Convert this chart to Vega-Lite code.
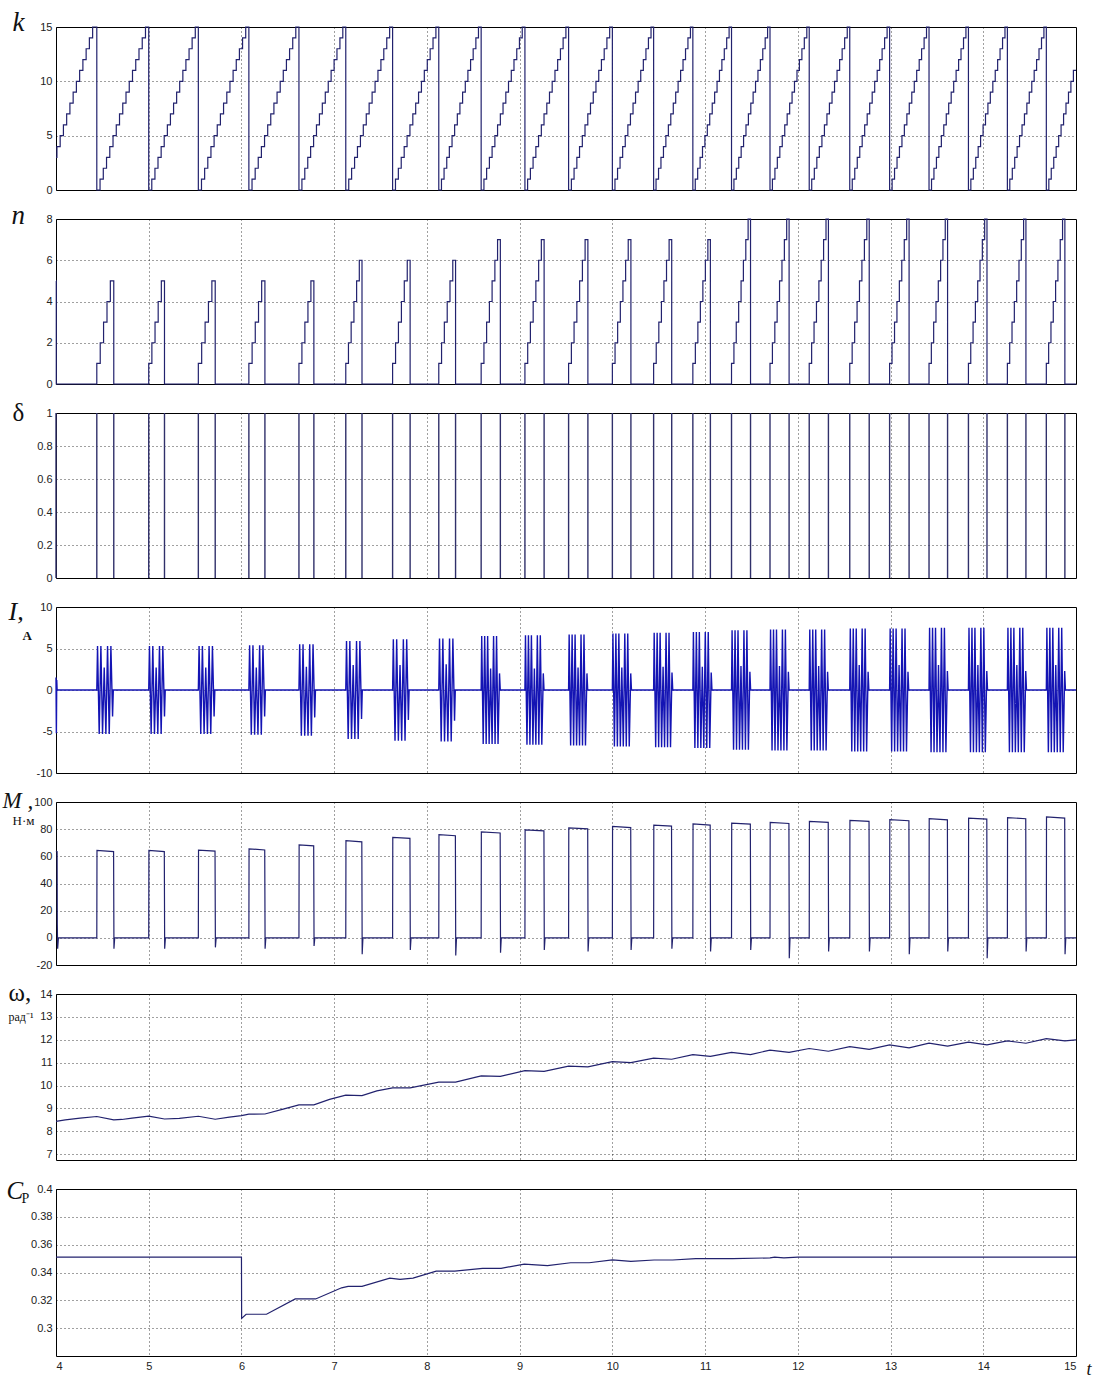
{
"$schema": "https://vega.github.io/schema/vega-lite/v6.json",
"background": "white",
"padding": {"left": 1, "top": 7, "right": 12, "bottom": 8},
"bounds": "flush",
"spacing": 29,
"config": {
 "view": {"stroke": "#000", "strokeWidth": 1},
 "axis": {"labelFont": "Liberation Sans", "labelFontSize": 11, "labelColor": "#222", "gridColor": "#000", "gridDash": [1, 3], "gridOpacity": 0.75, "domain": false, "ticks": false, "labelPadding": 4, "titleFont": "Liberation Serif", "titleColor": "#111", "titleFontWeight": "normal", "titleAngle": 0, "titleBaseline": "alphabetic", "titleAlign": "left"},
 "line": {"color": "#22226e", "strokeWidth": 1.2}
},
"datasets": {
 "k": [
{"t":4,"v":3},{"t":4.01,"v":4},{"t":4.045,"v":5},{"t":4.08,"v":6},{"t":4.115,"v":7},{"t":4.15,"v":8},{"t":4.185,"v":9},{"t":4.22,"v":10},{"t":4.255,"v":11},{"t":4.29,"v":12},{"t":4.325,"v":13},{"t":4.36,"v":14},{"t":4.395,"v":15},
{"t":4.44,"v":0},{"t":4.475,"v":1},{"t":4.51,"v":2},{"t":4.545,"v":3},{"t":4.58,"v":4},{"t":4.615,"v":5},{"t":4.65,"v":6},{"t":4.685,"v":7},{"t":4.72,"v":8},{"t":4.755,"v":9},{"t":4.79,"v":10},{"t":4.825,"v":11},{"t":4.86,"v":12},{"t":4.895,"v":13},{"t":4.93,"v":14},{"t":4.965,"v":15},
{"t":5.0,"v":0},{"t":5.033,"v":1},{"t":5.067,"v":2},{"t":5.1,"v":3},{"t":5.134,"v":4},{"t":5.167,"v":5},{"t":5.201,"v":6},{"t":5.234,"v":7},{"t":5.268,"v":8},{"t":5.301,"v":9},{"t":5.334,"v":10},{"t":5.368,"v":11},{"t":5.401,"v":12},{"t":5.435,"v":13},{"t":5.468,"v":14},{"t":5.502,"v":15},
{"t":5.535,"v":0},{"t":5.569,"v":1},{"t":5.603,"v":2},{"t":5.637,"v":3},{"t":5.671,"v":4},{"t":5.705,"v":5},{"t":5.739,"v":6},{"t":5.773,"v":7},{"t":5.807,"v":8},{"t":5.842,"v":9},{"t":5.876,"v":10},{"t":5.91,"v":11},{"t":5.944,"v":12},{"t":5.978,"v":13},{"t":6.012,"v":14},{"t":6.046,"v":15},
{"t":6.08,"v":0},{"t":6.114,"v":1},{"t":6.148,"v":2},{"t":6.181,"v":3},{"t":6.215,"v":4},{"t":6.249,"v":5},{"t":6.283,"v":6},{"t":6.316,"v":7},{"t":6.35,"v":8},{"t":6.384,"v":9},{"t":6.418,"v":10},{"t":6.451,"v":11},{"t":6.485,"v":12},{"t":6.519,"v":13},{"t":6.553,"v":14},{"t":6.586,"v":15},
{"t":6.62,"v":0},{"t":6.652,"v":1},{"t":6.683,"v":2},{"t":6.715,"v":3},{"t":6.746,"v":4},{"t":6.778,"v":5},{"t":6.809,"v":6},{"t":6.841,"v":7},{"t":6.872,"v":8},{"t":6.904,"v":9},{"t":6.936,"v":10},{"t":6.967,"v":11},{"t":6.999,"v":12},{"t":7.03,"v":13},{"t":7.062,"v":14},{"t":7.093,"v":15},
{"t":7.125,"v":0},{"t":7.157,"v":1},{"t":7.188,"v":2},{"t":7.22,"v":3},{"t":7.251,"v":4},{"t":7.283,"v":5},{"t":7.314,"v":6},{"t":7.346,"v":7},{"t":7.377,"v":8},{"t":7.409,"v":9},{"t":7.441,"v":10},{"t":7.472,"v":11},{"t":7.504,"v":12},{"t":7.535,"v":13},{"t":7.567,"v":14},{"t":7.598,"v":15},
{"t":7.63,"v":0},{"t":7.661,"v":1},{"t":7.692,"v":2},{"t":7.723,"v":3},{"t":7.755,"v":4},{"t":7.786,"v":5},{"t":7.817,"v":6},{"t":7.848,"v":7},{"t":7.879,"v":8},{"t":7.91,"v":9},{"t":7.941,"v":10},{"t":7.972,"v":11},{"t":8.004,"v":12},{"t":8.035,"v":13},{"t":8.066,"v":14},{"t":8.097,"v":15},
{"t":8.128,"v":0},{"t":8.157,"v":1},{"t":8.185,"v":2},{"t":8.214,"v":3},{"t":8.242,"v":4},{"t":8.271,"v":5},{"t":8.299,"v":6},{"t":8.328,"v":7},{"t":8.356,"v":8},{"t":8.385,"v":9},{"t":8.414,"v":10},{"t":8.442,"v":11},{"t":8.471,"v":12},{"t":8.499,"v":13},{"t":8.528,"v":14},{"t":8.556,"v":15},
{"t":8.585,"v":0},{"t":8.615,"v":1},{"t":8.644,"v":2},{"t":8.674,"v":3},{"t":8.703,"v":4},{"t":8.733,"v":5},{"t":8.762,"v":6},{"t":8.792,"v":7},{"t":8.821,"v":8},{"t":8.851,"v":9},{"t":8.88,"v":10},{"t":8.91,"v":11},{"t":8.939,"v":12},{"t":8.969,"v":13},{"t":8.998,"v":14},{"t":9.028,"v":15},
{"t":9.057,"v":0},{"t":9.086,"v":1},{"t":9.116,"v":2},{"t":9.145,"v":3},{"t":9.175,"v":4},{"t":9.204,"v":5},{"t":9.234,"v":6},{"t":9.263,"v":7},{"t":9.293,"v":8},{"t":9.322,"v":9},{"t":9.351,"v":10},{"t":9.381,"v":11},{"t":9.41,"v":12},{"t":9.44,"v":13},{"t":9.469,"v":14},{"t":9.499,"v":15},
{"t":9.528,"v":0},{"t":9.558,"v":1},{"t":9.587,"v":2},{"t":9.617,"v":3},{"t":9.646,"v":4},{"t":9.676,"v":5},{"t":9.705,"v":6},{"t":9.735,"v":7},{"t":9.764,"v":8},{"t":9.794,"v":9},{"t":9.823,"v":10},{"t":9.853,"v":11},{"t":9.882,"v":12},{"t":9.912,"v":13},{"t":9.941,"v":14},{"t":9.971,"v":15},
{"t":10.0,"v":0},{"t":10.028,"v":1},{"t":10.056,"v":2},{"t":10.083,"v":3},{"t":10.111,"v":4},{"t":10.139,"v":5},{"t":10.167,"v":6},{"t":10.195,"v":7},{"t":10.223,"v":8},{"t":10.25,"v":9},{"t":10.278,"v":10},{"t":10.306,"v":11},{"t":10.334,"v":12},{"t":10.362,"v":13},{"t":10.389,"v":14},{"t":10.417,"v":15},
{"t":10.445,"v":0},{"t":10.471,"v":1},{"t":10.498,"v":2},{"t":10.524,"v":3},{"t":10.551,"v":4},{"t":10.577,"v":5},{"t":10.604,"v":6},{"t":10.63,"v":7},{"t":10.657,"v":8},{"t":10.683,"v":9},{"t":10.709,"v":10},{"t":10.736,"v":11},{"t":10.762,"v":12},{"t":10.789,"v":13},{"t":10.815,"v":14},{"t":10.842,"v":15},
{"t":10.868,"v":0},{"t":10.894,"v":1},{"t":10.92,"v":2},{"t":10.946,"v":3},{"t":10.972,"v":4},{"t":10.998,"v":5},{"t":11.024,"v":6},{"t":11.05,"v":7},{"t":11.077,"v":8},{"t":11.103,"v":9},{"t":11.129,"v":10},{"t":11.155,"v":11},{"t":11.181,"v":12},{"t":11.207,"v":13},{"t":11.233,"v":14},{"t":11.259,"v":15},
{"t":11.285,"v":0},{"t":11.311,"v":1},{"t":11.337,"v":2},{"t":11.363,"v":3},{"t":11.389,"v":4},{"t":11.415,"v":5},{"t":11.441,"v":6},{"t":11.467,"v":7},{"t":11.493,"v":8},{"t":11.518,"v":9},{"t":11.544,"v":10},{"t":11.57,"v":11},{"t":11.596,"v":12},{"t":11.622,"v":13},{"t":11.648,"v":14},{"t":11.674,"v":15},
{"t":11.7,"v":0},{"t":11.726,"v":1},{"t":11.753,"v":2},{"t":11.779,"v":3},{"t":11.806,"v":4},{"t":11.832,"v":5},{"t":11.859,"v":6},{"t":11.885,"v":7},{"t":11.912,"v":8},{"t":11.938,"v":9},{"t":11.964,"v":10},{"t":11.991,"v":11},{"t":12.017,"v":12},{"t":12.044,"v":13},{"t":12.07,"v":14},{"t":12.097,"v":15},
{"t":12.123,"v":0},{"t":12.15,"v":1},{"t":12.178,"v":2},{"t":12.205,"v":3},{"t":12.232,"v":4},{"t":12.26,"v":5},{"t":12.287,"v":6},{"t":12.314,"v":7},{"t":12.341,"v":8},{"t":12.369,"v":9},{"t":12.396,"v":10},{"t":12.423,"v":11},{"t":12.451,"v":12},{"t":12.478,"v":13},{"t":12.505,"v":14},{"t":12.533,"v":15},
{"t":12.56,"v":0},{"t":12.587,"v":1},{"t":12.614,"v":2},{"t":12.641,"v":3},{"t":12.668,"v":4},{"t":12.694,"v":5},{"t":12.721,"v":6},{"t":12.748,"v":7},{"t":12.775,"v":8},{"t":12.802,"v":9},{"t":12.829,"v":10},{"t":12.856,"v":11},{"t":12.883,"v":12},{"t":12.909,"v":13},{"t":12.936,"v":14},{"t":12.963,"v":15},
{"t":12.99,"v":0},{"t":13.017,"v":1},{"t":13.043,"v":2},{"t":13.07,"v":3},{"t":13.096,"v":4},{"t":13.123,"v":5},{"t":13.149,"v":6},{"t":13.176,"v":7},{"t":13.202,"v":8},{"t":13.229,"v":9},{"t":13.256,"v":10},{"t":13.282,"v":11},{"t":13.309,"v":12},{"t":13.335,"v":13},{"t":13.362,"v":14},{"t":13.388,"v":15},
{"t":13.415,"v":0},{"t":13.442,"v":1},{"t":13.468,"v":2},{"t":13.495,"v":3},{"t":13.521,"v":4},{"t":13.548,"v":5},{"t":13.574,"v":6},{"t":13.601,"v":7},{"t":13.627,"v":8},{"t":13.654,"v":9},{"t":13.681,"v":10},{"t":13.707,"v":11},{"t":13.734,"v":12},{"t":13.76,"v":13},{"t":13.787,"v":14},{"t":13.813,"v":15},
{"t":13.84,"v":0},{"t":13.866,"v":1},{"t":13.893,"v":2},{"t":13.919,"v":3},{"t":13.945,"v":4},{"t":13.971,"v":5},{"t":13.998,"v":6},{"t":14.024,"v":7},{"t":14.05,"v":8},{"t":14.076,"v":9},{"t":14.103,"v":10},{"t":14.129,"v":11},{"t":14.155,"v":12},{"t":14.181,"v":13},{"t":14.208,"v":14},{"t":14.234,"v":15},
{"t":14.26,"v":0},{"t":14.286,"v":1},{"t":14.313,"v":2},{"t":14.339,"v":3},{"t":14.365,"v":4},{"t":14.391,"v":5},{"t":14.418,"v":6},{"t":14.444,"v":7},{"t":14.47,"v":8},{"t":14.496,"v":9},{"t":14.523,"v":10},{"t":14.549,"v":11},{"t":14.575,"v":12},{"t":14.601,"v":13},{"t":14.628,"v":14},{"t":14.654,"v":15},
{"t":14.68,"v":0},{"t":14.707,"v":1},{"t":14.733,"v":2},{"t":14.76,"v":3},{"t":14.786,"v":4},{"t":14.813,"v":5},{"t":14.839,"v":6},{"t":14.866,"v":7},{"t":14.892,"v":8},{"t":14.919,"v":9},{"t":14.945,"v":10},{"t":14.972,"v":11},{"t":15.0,"v":11}
 ],
 "n": [
{"t":4,"v":5},{"t":4.003,"v":0},
{"t":4.44,"v":1},{"t":4.477,"v":2},{"t":4.513,"v":3},{"t":4.55,"v":4},{"t":4.586,"v":5},{"t":4.623,"v":0},
{"t":5.0,"v":1},{"t":5.034,"v":2},{"t":5.068,"v":3},{"t":5.102,"v":4},{"t":5.136,"v":5},{"t":5.17,"v":0},
{"t":5.535,"v":1},{"t":5.571,"v":2},{"t":5.608,"v":3},{"t":5.644,"v":4},{"t":5.681,"v":5},{"t":5.717,"v":0},
{"t":6.08,"v":1},{"t":6.115,"v":2},{"t":6.149,"v":3},{"t":6.184,"v":4},{"t":6.218,"v":5},{"t":6.253,"v":0},
{"t":6.62,"v":1},{"t":6.652,"v":2},{"t":6.684,"v":3},{"t":6.717,"v":4},{"t":6.749,"v":5},{"t":6.781,"v":0},
{"t":7.125,"v":1},{"t":7.154,"v":2},{"t":7.183,"v":3},{"t":7.213,"v":4},{"t":7.242,"v":5},{"t":7.271,"v":6},{"t":7.3,"v":0},
{"t":7.63,"v":1},{"t":7.662,"v":2},{"t":7.693,"v":3},{"t":7.725,"v":4},{"t":7.756,"v":5},{"t":7.788,"v":6},{"t":7.819,"v":0},
{"t":8.128,"v":1},{"t":8.158,"v":2},{"t":8.188,"v":3},{"t":8.219,"v":4},{"t":8.249,"v":5},{"t":8.279,"v":6},{"t":8.309,"v":0},
{"t":8.585,"v":1},{"t":8.615,"v":2},{"t":8.644,"v":3},{"t":8.674,"v":4},{"t":8.703,"v":5},{"t":8.733,"v":6},{"t":8.762,"v":7},{"t":8.792,"v":0},
{"t":9.057,"v":1},{"t":9.087,"v":2},{"t":9.116,"v":3},{"t":9.146,"v":4},{"t":9.175,"v":5},{"t":9.205,"v":6},{"t":9.234,"v":7},{"t":9.264,"v":0},
{"t":9.528,"v":1},{"t":9.558,"v":2},{"t":9.587,"v":3},{"t":9.617,"v":4},{"t":9.647,"v":5},{"t":9.677,"v":6},{"t":9.706,"v":7},{"t":9.736,"v":0},
{"t":10.0,"v":1},{"t":10.029,"v":2},{"t":10.057,"v":3},{"t":10.086,"v":4},{"t":10.114,"v":5},{"t":10.143,"v":6},{"t":10.171,"v":7},{"t":10.2,"v":0},
{"t":10.445,"v":1},{"t":10.473,"v":2},{"t":10.501,"v":3},{"t":10.529,"v":4},{"t":10.556,"v":5},{"t":10.584,"v":6},{"t":10.612,"v":7},{"t":10.64,"v":0},
{"t":10.868,"v":1},{"t":10.895,"v":2},{"t":10.922,"v":3},{"t":10.949,"v":4},{"t":10.976,"v":5},{"t":11.003,"v":6},{"t":11.03,"v":7},{"t":11.057,"v":0},
{"t":11.285,"v":1},{"t":11.311,"v":2},{"t":11.336,"v":3},{"t":11.362,"v":4},{"t":11.388,"v":5},{"t":11.413,"v":6},{"t":11.439,"v":7},{"t":11.464,"v":8},{"t":11.49,"v":0},
{"t":11.7,"v":1},{"t":11.726,"v":2},{"t":11.752,"v":3},{"t":11.777,"v":4},{"t":11.803,"v":5},{"t":11.829,"v":6},{"t":11.855,"v":7},{"t":11.88,"v":8},{"t":11.906,"v":0},
{"t":12.123,"v":1},{"t":12.149,"v":2},{"t":12.175,"v":3},{"t":12.201,"v":4},{"t":12.227,"v":5},{"t":12.252,"v":6},{"t":12.278,"v":7},{"t":12.304,"v":8},{"t":12.33,"v":0},
{"t":12.56,"v":1},{"t":12.586,"v":2},{"t":12.613,"v":3},{"t":12.639,"v":4},{"t":12.665,"v":5},{"t":12.691,"v":6},{"t":12.718,"v":7},{"t":12.744,"v":8},{"t":12.77,"v":0},
{"t":12.99,"v":1},{"t":13.016,"v":2},{"t":13.043,"v":3},{"t":13.069,"v":4},{"t":13.095,"v":5},{"t":13.121,"v":6},{"t":13.148,"v":7},{"t":13.174,"v":8},{"t":13.2,"v":0},
{"t":13.415,"v":1},{"t":13.44,"v":2},{"t":13.465,"v":3},{"t":13.49,"v":4},{"t":13.515,"v":5},{"t":13.54,"v":6},{"t":13.565,"v":7},{"t":13.59,"v":8},{"t":13.615,"v":0},
{"t":13.84,"v":1},{"t":13.865,"v":2},{"t":13.89,"v":3},{"t":13.915,"v":4},{"t":13.94,"v":5},{"t":13.965,"v":6},{"t":13.99,"v":7},{"t":14.015,"v":8},{"t":14.04,"v":0},
{"t":14.26,"v":1},{"t":14.285,"v":2},{"t":14.31,"v":3},{"t":14.335,"v":4},{"t":14.36,"v":5},{"t":14.385,"v":6},{"t":14.41,"v":7},{"t":14.435,"v":8},{"t":14.46,"v":0},
{"t":14.68,"v":1},{"t":14.705,"v":2},{"t":14.73,"v":3},{"t":14.755,"v":4},{"t":14.78,"v":5},{"t":14.805,"v":6},{"t":14.83,"v":7},{"t":14.855,"v":8},{"t":14.88,"v":0},
{"t":15.0,"v":0}
 ],
 "d": [
{"t":4.0,"v":1},{"t":4.44,"v":1},{"t":4.623,"v":1},{"t":5.0,"v":1},{"t":5.17,"v":1},{"t":5.535,"v":1},{"t":5.717,"v":1},{"t":6.08,"v":1},{"t":6.253,"v":1},{"t":6.62,"v":1},{"t":6.781,"v":1},{"t":7.125,"v":1},{"t":7.3,"v":1},{"t":7.63,"v":1},{"t":7.819,"v":1},{"t":8.128,"v":1},{"t":8.309,"v":1},{"t":8.585,"v":1},{"t":8.792,"v":1},{"t":9.057,"v":1},{"t":9.264,"v":1},{"t":9.528,"v":1},{"t":9.736,"v":1},{"t":10.0,"v":1},{"t":10.2,"v":1},{"t":10.445,"v":1},{"t":10.64,"v":1},{"t":10.868,"v":1},{"t":11.057,"v":1},{"t":11.285,"v":1},{"t":11.49,"v":1},{"t":11.7,"v":1},{"t":11.906,"v":1},{"t":12.123,"v":1},{"t":12.33,"v":1},{"t":12.56,"v":1},{"t":12.77,"v":1},{"t":12.99,"v":1},{"t":13.2,"v":1},{"t":13.415,"v":1},{"t":13.615,"v":1},{"t":13.84,"v":1},{"t":14.04,"v":1},{"t":14.26,"v":1},{"t":14.46,"v":1},{"t":14.68,"v":1},{"t":14.88,"v":1}
 ],
 "i": [
{"t":4.0,"v":1.5},{"t":4.004,"v":-5.2},{"t":4.008,"v":1.2},{"t":4.012,"v":0},
{"t":4.44,"v":0},{"t":4.448,"v":5.3},{"t":4.466,"v":-5.3},{"t":4.484,"v":5.3},{"t":4.502,"v":-5.3},{"t":4.52,"v":2.7},{"t":4.538,"v":-5.3},{"t":4.556,"v":5.3},{"t":4.574,"v":-5.3},{"t":4.592,"v":5.3},{"t":4.61,"v":-3.2},{"t":4.618,"v":0},
{"t":5.0,"v":0},{"t":5.008,"v":5.3},{"t":5.026,"v":-5.3},{"t":5.044,"v":5.3},{"t":5.062,"v":-5.3},{"t":5.08,"v":2.7},{"t":5.098,"v":-5.3},{"t":5.116,"v":5.3},{"t":5.134,"v":-5.3},{"t":5.152,"v":5.3},{"t":5.17,"v":-3.2},{"t":5.178,"v":0},
{"t":5.535,"v":0},{"t":5.543,"v":5.3},{"t":5.561,"v":-5.3},{"t":5.579,"v":5.3},{"t":5.597,"v":-5.3},{"t":5.615,"v":2.7},{"t":5.633,"v":-5.3},{"t":5.651,"v":5.3},{"t":5.669,"v":-5.3},{"t":5.687,"v":5.3},{"t":5.705,"v":-3.2},{"t":5.713,"v":0},
{"t":6.08,"v":0},{"t":6.088,"v":5.4},{"t":6.106,"v":-5.4},{"t":6.124,"v":5.4},{"t":6.142,"v":-5.4},{"t":6.16,"v":2.7},{"t":6.178,"v":-5.4},{"t":6.196,"v":5.4},{"t":6.214,"v":-5.4},{"t":6.232,"v":5.4},{"t":6.25,"v":-3.2},{"t":6.258,"v":0},
{"t":6.62,"v":0},{"t":6.628,"v":5.5},{"t":6.646,"v":-5.5},{"t":6.664,"v":5.5},{"t":6.682,"v":-5.5},{"t":6.7,"v":2.8},{"t":6.718,"v":-5.5},{"t":6.736,"v":5.5},{"t":6.754,"v":-5.5},{"t":6.772,"v":5.5},{"t":6.79,"v":-3.3},{"t":6.798,"v":0},
{"t":7.125,"v":0},{"t":7.133,"v":5.9},{"t":7.151,"v":-5.9},{"t":7.169,"v":5.9},{"t":7.187,"v":-5.9},{"t":7.205,"v":3.0},{"t":7.223,"v":-5.9},{"t":7.241,"v":5.9},{"t":7.259,"v":-5.9},{"t":7.277,"v":5.9},{"t":7.295,"v":-3.5},{"t":7.303,"v":0},
{"t":7.63,"v":0},{"t":7.638,"v":6.1},{"t":7.656,"v":-6.1},{"t":7.674,"v":6.1},{"t":7.692,"v":-6.1},{"t":7.71,"v":3.0},{"t":7.728,"v":-6.1},{"t":7.746,"v":6.1},{"t":7.764,"v":-6.1},{"t":7.782,"v":6.1},{"t":7.8,"v":-3.6},{"t":7.808,"v":0},
{"t":8.128,"v":0},{"t":8.136,"v":6.2},{"t":8.154,"v":-6.2},{"t":8.172,"v":6.2},{"t":8.19,"v":-6.2},{"t":8.208,"v":3.1},{"t":8.226,"v":-6.2},{"t":8.244,"v":6.2},{"t":8.262,"v":-6.2},{"t":8.28,"v":6.2},{"t":8.298,"v":-3.7},{"t":8.306,"v":0},
{"t":8.585,"v":0},{"t":8.591,"v":6.5},{"t":8.607,"v":-6.5},{"t":8.623,"v":6.5},{"t":8.639,"v":-6.5},{"t":8.655,"v":6.5},{"t":8.671,"v":-6.5},{"t":8.687,"v":2.6},{"t":8.703,"v":-6.5},{"t":8.719,"v":6.5},{"t":8.735,"v":-6.5},{"t":8.751,"v":6.5},{"t":8.767,"v":-6.5},{"t":8.783,"v":2.0},{"t":8.791,"v":0},
{"t":9.057,"v":0},{"t":9.063,"v":6.6},{"t":9.079,"v":-6.6},{"t":9.095,"v":6.6},{"t":9.111,"v":-6.6},{"t":9.127,"v":6.6},{"t":9.143,"v":-6.6},{"t":9.159,"v":2.6},{"t":9.175,"v":-6.6},{"t":9.191,"v":6.6},{"t":9.207,"v":-6.6},{"t":9.223,"v":6.6},{"t":9.239,"v":-6.6},{"t":9.255,"v":2.0},{"t":9.263,"v":0},
{"t":9.528,"v":0},{"t":9.534,"v":6.7},{"t":9.55,"v":-6.7},{"t":9.566,"v":6.7},{"t":9.582,"v":-6.7},{"t":9.598,"v":6.7},{"t":9.614,"v":-6.7},{"t":9.63,"v":2.7},{"t":9.646,"v":-6.7},{"t":9.662,"v":6.7},{"t":9.678,"v":-6.7},{"t":9.694,"v":6.7},{"t":9.71,"v":-6.7},{"t":9.726,"v":2.0},{"t":9.734,"v":0},
{"t":10.0,"v":0},{"t":10.006,"v":6.8},{"t":10.022,"v":-6.8},{"t":10.038,"v":6.8},{"t":10.054,"v":-6.8},{"t":10.07,"v":6.8},{"t":10.086,"v":-6.8},{"t":10.102,"v":2.7},{"t":10.118,"v":-6.8},{"t":10.134,"v":6.8},{"t":10.15,"v":-6.8},{"t":10.166,"v":6.8},{"t":10.182,"v":-6.8},{"t":10.198,"v":2.0},{"t":10.206,"v":0},
{"t":10.445,"v":0},{"t":10.451,"v":6.9},{"t":10.467,"v":-6.9},{"t":10.483,"v":6.9},{"t":10.499,"v":-6.9},{"t":10.515,"v":6.9},{"t":10.531,"v":-6.9},{"t":10.547,"v":2.8},{"t":10.563,"v":-6.9},{"t":10.579,"v":6.9},{"t":10.595,"v":-6.9},{"t":10.611,"v":6.9},{"t":10.627,"v":-6.9},{"t":10.643,"v":2.1},{"t":10.651,"v":0},
{"t":10.868,"v":0},{"t":10.874,"v":7.0},{"t":10.89,"v":-7.0},{"t":10.906,"v":7.0},{"t":10.922,"v":-7.0},{"t":10.938,"v":7.0},{"t":10.954,"v":-7.0},{"t":10.97,"v":2.8},{"t":10.986,"v":-7.0},{"t":11.002,"v":7.0},{"t":11.018,"v":-7.0},{"t":11.034,"v":7.0},{"t":11.05,"v":-7.0},{"t":11.066,"v":2.1},{"t":11.074,"v":0},
{"t":11.285,"v":0},{"t":11.291,"v":7.2},{"t":11.307,"v":-7.2},{"t":11.323,"v":7.2},{"t":11.339,"v":-7.2},{"t":11.355,"v":7.2},{"t":11.371,"v":-7.2},{"t":11.387,"v":2.9},{"t":11.403,"v":-7.2},{"t":11.419,"v":7.2},{"t":11.435,"v":-7.2},{"t":11.451,"v":7.2},{"t":11.467,"v":-7.2},{"t":11.483,"v":2.2},{"t":11.491,"v":0},
{"t":11.7,"v":0},{"t":11.706,"v":7.3},{"t":11.722,"v":-7.3},{"t":11.738,"v":7.3},{"t":11.754,"v":-7.3},{"t":11.77,"v":7.3},{"t":11.786,"v":-7.3},{"t":11.802,"v":2.9},{"t":11.818,"v":-7.3},{"t":11.834,"v":7.3},{"t":11.85,"v":-7.3},{"t":11.866,"v":7.3},{"t":11.882,"v":-7.3},{"t":11.898,"v":2.2},{"t":11.906,"v":0},
{"t":12.123,"v":0},{"t":12.129,"v":7.3},{"t":12.145,"v":-7.3},{"t":12.161,"v":7.3},{"t":12.177,"v":-7.3},{"t":12.193,"v":7.3},{"t":12.209,"v":-7.3},{"t":12.225,"v":2.9},{"t":12.241,"v":-7.3},{"t":12.257,"v":7.3},{"t":12.273,"v":-7.3},{"t":12.289,"v":7.3},{"t":12.305,"v":-7.3},{"t":12.321,"v":2.2},{"t":12.329,"v":0},
{"t":12.56,"v":0},{"t":12.566,"v":7.4},{"t":12.582,"v":-7.4},{"t":12.598,"v":7.4},{"t":12.614,"v":-7.4},{"t":12.63,"v":7.4},{"t":12.646,"v":-7.4},{"t":12.662,"v":3.0},{"t":12.678,"v":-7.4},{"t":12.694,"v":7.4},{"t":12.71,"v":-7.4},{"t":12.726,"v":7.4},{"t":12.742,"v":-7.4},{"t":12.758,"v":2.2},{"t":12.766,"v":0},
{"t":12.99,"v":0},{"t":12.996,"v":7.4},{"t":13.012,"v":-7.4},{"t":13.028,"v":7.4},{"t":13.044,"v":-7.4},{"t":13.06,"v":7.4},{"t":13.076,"v":-7.4},{"t":13.092,"v":3.0},{"t":13.108,"v":-7.4},{"t":13.124,"v":7.4},{"t":13.14,"v":-7.4},{"t":13.156,"v":7.4},{"t":13.172,"v":-7.4},{"t":13.188,"v":2.2},{"t":13.196,"v":0},
{"t":13.415,"v":0},{"t":13.421,"v":7.5},{"t":13.437,"v":-7.5},{"t":13.453,"v":7.5},{"t":13.469,"v":-7.5},{"t":13.485,"v":7.5},{"t":13.501,"v":-7.5},{"t":13.517,"v":3.0},{"t":13.533,"v":-7.5},{"t":13.549,"v":7.5},{"t":13.565,"v":-7.5},{"t":13.581,"v":7.5},{"t":13.597,"v":-7.5},{"t":13.613,"v":2.3},{"t":13.621,"v":0},
{"t":13.84,"v":0},{"t":13.846,"v":7.5},{"t":13.862,"v":-7.5},{"t":13.878,"v":7.5},{"t":13.894,"v":-7.5},{"t":13.91,"v":7.5},{"t":13.926,"v":-7.5},{"t":13.942,"v":3.0},{"t":13.958,"v":-7.5},{"t":13.974,"v":7.5},{"t":13.99,"v":-7.5},{"t":14.006,"v":7.5},{"t":14.022,"v":-7.5},{"t":14.038,"v":2.3},{"t":14.046,"v":0},
{"t":14.26,"v":0},{"t":14.266,"v":7.5},{"t":14.282,"v":-7.5},{"t":14.298,"v":7.5},{"t":14.314,"v":-7.5},{"t":14.33,"v":7.5},{"t":14.346,"v":-7.5},{"t":14.362,"v":3.0},{"t":14.378,"v":-7.5},{"t":14.394,"v":7.5},{"t":14.41,"v":-7.5},{"t":14.426,"v":7.5},{"t":14.442,"v":-7.5},{"t":14.458,"v":2.3},{"t":14.466,"v":0},
{"t":14.68,"v":0},{"t":14.686,"v":7.5},{"t":14.702,"v":-7.5},{"t":14.718,"v":7.5},{"t":14.734,"v":-7.5},{"t":14.75,"v":7.5},{"t":14.766,"v":-7.5},{"t":14.782,"v":3.0},{"t":14.798,"v":-7.5},{"t":14.814,"v":7.5},{"t":14.83,"v":-7.5},{"t":14.846,"v":7.5},{"t":14.862,"v":-7.5},{"t":14.878,"v":2.3},{"t":14.886,"v":0},
{"t":15.0,"v":0}
 ],
 "m": [
{"t":4.0,"v":64},{"t":4.012,"v":63.5},{"t":4.014,"v":10},{"t":4.018,"v":-8},{"t":4.026,"v":0},
{"t":4.44,"v":0},{"t":4.442,"v":64.3},{"t":4.621,"v":63.5},{"t":4.625,"v":-8},{"t":4.633,"v":0},
{"t":5.0,"v":0},{"t":5.002,"v":64.3},{"t":5.168,"v":63.5},{"t":5.172,"v":-8},{"t":5.18,"v":0},
{"t":5.535,"v":0},{"t":5.537,"v":64.6},{"t":5.715,"v":63.8},{"t":5.719,"v":-7},{"t":5.727,"v":0},
{"t":6.08,"v":0},{"t":6.082,"v":65.5},{"t":6.251,"v":64.7},{"t":6.255,"v":-8},{"t":6.263,"v":0},
{"t":6.62,"v":0},{"t":6.622,"v":68.5},{"t":6.779,"v":67.7},{"t":6.783,"v":-6},{"t":6.791,"v":0},
{"t":7.125,"v":0},{"t":7.127,"v":71.5},{"t":7.298,"v":70.7},{"t":7.302,"v":-12},{"t":7.31,"v":0},
{"t":7.63,"v":0},{"t":7.632,"v":74},{"t":7.817,"v":73.2},{"t":7.821,"v":-9},{"t":7.829,"v":0},
{"t":8.128,"v":0},{"t":8.13,"v":76},{"t":8.307,"v":75.2},{"t":8.311,"v":-13},{"t":8.319,"v":0},
{"t":8.585,"v":0},{"t":8.587,"v":78},{"t":8.79,"v":77.2},{"t":8.794,"v":-11},{"t":8.802,"v":0},
{"t":9.057,"v":0},{"t":9.059,"v":79.5},{"t":9.262,"v":78.7},{"t":9.266,"v":-9},{"t":9.274,"v":0},
{"t":9.528,"v":0},{"t":9.53,"v":81},{"t":9.734,"v":80.2},{"t":9.738,"v":-10},{"t":9.746,"v":0},
{"t":10.0,"v":0},{"t":10.002,"v":82},{"t":10.198,"v":81.2},{"t":10.202,"v":-9},{"t":10.21,"v":0},
{"t":10.445,"v":0},{"t":10.447,"v":83},{"t":10.638,"v":82.2},{"t":10.642,"v":-8},{"t":10.65,"v":0},
{"t":10.868,"v":0},{"t":10.87,"v":83.8},{"t":11.055,"v":83},{"t":11.059,"v":-10},{"t":11.067,"v":0},
{"t":11.285,"v":0},{"t":11.287,"v":84.5},{"t":11.488,"v":83.7},{"t":11.492,"v":-9},{"t":11.5,"v":0},
{"t":11.7,"v":0},{"t":11.702,"v":85},{"t":11.904,"v":84.2},{"t":11.908,"v":-15},{"t":11.916,"v":0},
{"t":12.123,"v":0},{"t":12.125,"v":85.8},{"t":12.328,"v":85},{"t":12.332,"v":-10},{"t":12.34,"v":0},
{"t":12.56,"v":0},{"t":12.562,"v":86.5},{"t":12.768,"v":85.7},{"t":12.772,"v":-10},{"t":12.78,"v":0},
{"t":12.99,"v":0},{"t":12.992,"v":87},{"t":13.198,"v":86.2},{"t":13.202,"v":-12},{"t":13.21,"v":0},
{"t":13.415,"v":0},{"t":13.417,"v":87.7},{"t":13.613,"v":86.9},{"t":13.617,"v":-10},{"t":13.625,"v":0},
{"t":13.84,"v":0},{"t":13.842,"v":88.2},{"t":14.038,"v":87.4},{"t":14.042,"v":-15},{"t":14.05,"v":0},
{"t":14.26,"v":0},{"t":14.262,"v":88.5},{"t":14.458,"v":87.7},{"t":14.462,"v":-10},{"t":14.47,"v":0},
{"t":14.68,"v":0},{"t":14.682,"v":89},{"t":14.878,"v":88.2},{"t":14.882,"v":-12},{"t":14.89,"v":0},
{"t":15.0,"v":0}
 ],
 "w": [
{"t":4.0,"v":8.44},{"t":4.1,"v":8.5},{"t":4.26,"v":8.58},{"t":4.44,"v":8.65},{"t":4.623,"v":8.5},{"t":4.71,"v":8.52},{"t":4.82,"v":8.58},{"t":5.0,"v":8.67},{"t":5.17,"v":8.54},{"t":5.33,"v":8.57},{"t":5.535,"v":8.66},{"t":5.717,"v":8.53},{"t":5.87,"v":8.62},{"t":6.0,"v":8.69},{"t":6.08,"v":8.75},{"t":6.253,"v":8.76},{"t":6.45,"v":8.97},{"t":6.62,"v":9.16},{"t":6.781,"v":9.16},{"t":6.95,"v":9.4},{"t":7.125,"v":9.58},{"t":7.3,"v":9.56},{"t":7.46,"v":9.77},{"t":7.63,"v":9.9},{"t":7.819,"v":9.9},{"t":8.128,"v":10.15},{"t":8.309,"v":10.15},{"t":8.585,"v":10.42},{"t":8.792,"v":10.4},{"t":9.057,"v":10.65},{"t":9.264,"v":10.62},{"t":9.528,"v":10.85},{"t":9.736,"v":10.82},{"t":10.0,"v":11.05},{"t":10.2,"v":11.0},{"t":10.445,"v":11.2},{"t":10.64,"v":11.15},{"t":10.868,"v":11.35},{"t":11.057,"v":11.28},{"t":11.285,"v":11.45},{"t":11.49,"v":11.35},{"t":11.7,"v":11.55},{"t":11.906,"v":11.45},{"t":12.123,"v":11.62},{"t":12.33,"v":11.5},{"t":12.56,"v":11.7},{"t":12.77,"v":11.58},{"t":12.99,"v":11.78},{"t":13.2,"v":11.65},{"t":13.415,"v":11.85},{"t":13.615,"v":11.72},{"t":13.84,"v":11.9},{"t":14.04,"v":11.78},{"t":14.26,"v":11.95},{"t":14.46,"v":11.85},{"t":14.68,"v":12.05},{"t":14.88,"v":11.95},{"t":15.0,"v":12.0}
 ],
 "c": [
{"t":4.0,"v":0.351},{"t":6.0,"v":0.351},{"t":6.002,"v":0.307},{"t":6.05,"v":0.31},{"t":6.27,"v":0.31},{"t":6.58,"v":0.321},{"t":6.8,"v":0.321},{"t":7.08,"v":0.329},{"t":7.15,"v":0.33},{"t":7.3,"v":0.33},{"t":7.6,"v":0.336},{"t":7.71,"v":0.335},{"t":7.85,"v":0.336},{"t":8.1,"v":0.341},{"t":8.3,"v":0.341},{"t":8.6,"v":0.343},{"t":8.8,"v":0.343},{"t":9.05,"v":0.346},{"t":9.3,"v":0.345},{"t":9.55,"v":0.347},{"t":9.75,"v":0.347},{"t":10.0,"v":0.349},{"t":10.2,"v":0.348},{"t":10.45,"v":0.349},{"t":10.65,"v":0.349},{"t":10.9,"v":0.35},{"t":11.3,"v":0.35},{"t":11.7,"v":0.3505},{"t":11.75,"v":0.351},{"t":11.85,"v":0.3505},{"t":12.0,"v":0.351},{"t":15.0,"v":0.351}
 ]
},
"vconcat": [
 {
  "width": 1020, "height": 163,
  "data": {"name": "k"},
  "mark": {"type": "line", "interpolate": "step-after"},
  "encoding": {
   "x": {"field": "t", "type": "quantitative", "scale": {"domain": [4, 15], "nice": false, "zero": false}, "axis": {"values": [5,6,7,8,9,10,11,12,13,14], "labels": false, "title": null, "grid": true}},
   "y": {"field": "v", "type": "quantitative", "scale": {"domain": [0, 15], "nice": false}, "axis": {"values": [0,5,10,15], "labelExpr": "'' + datum.value", "title": "k", "titleX": -44, "titleY": 3, "titleFontSize": 27, "titleFontStyle": "italic"}}
  }
 },
 {
  "width": 1020, "height": 165,
  "data": {"name": "n"},
  "mark": {"type": "line", "interpolate": "step-after"},
  "encoding": {
   "x": {"field": "t", "type": "quantitative", "scale": {"domain": [4, 15], "nice": false, "zero": false}, "axis": {"values": [5,6,7,8,9,10,11,12,13,14], "labels": false, "title": null, "grid": true}},
   "y": {"field": "v", "type": "quantitative", "scale": {"domain": [0, 8], "nice": false}, "axis": {"values": [0,2,4,6,8], "labelExpr": "'' + datum.value", "title": "n", "titleX": -45, "titleY": 4, "titleFontSize": 27, "titleFontStyle": "italic"}}
  }
 },
 {
  "width": 1020, "height": 165,
  "data": {"name": "d"},
  "mark": {"type": "rule", "color": "#30306a", "strokeWidth": 1.4},
  "encoding": {
   "x": {"field": "t", "type": "quantitative", "scale": {"domain": [4, 15], "nice": false, "zero": false}, "axis": {"values": [5,6,7,8,9,10,11,12,13,14], "labels": false, "title": null, "grid": true}},
   "y": {"field": "v", "type": "quantitative", "scale": {"domain": [0, 1], "nice": false}, "axis": {"values": [0,0.2,0.4,0.6,0.8,1], "labelExpr": "'' + datum.value", "title": "δ", "titleX": -44, "titleY": 7, "titleFontSize": 25}},
   "y2": {"datum": 0}
  }
 },
 {
  "width": 1020, "height": 166,
  "data": {"name": "i"},
  "mark": {"type": "line", "color": "#1414b4", "strokeWidth": 1.4},
  "encoding": {
   "x": {"field": "t", "type": "quantitative", "scale": {"domain": [4, 15], "nice": false, "zero": false}, "axis": {"values": [5,6,7,8,9,10,11,12,13,14], "labels": false, "grid": true, "title": "А", "titleX": -34, "titleY": -134, "titleFontSize": 13, "titleFontWeight": "bold"}},
   "y": {"field": "v", "type": "quantitative", "scale": {"domain": [-10, 10], "nice": false}, "axis": {"values": [-10,-5,0,5,10], "labelExpr": "'' + datum.value", "title": "I,", "titleX": -48, "titleY": 12, "titleFontSize": 26, "titleFontStyle": "italic"}}
  }
 },
 {
  "width": 1020, "height": 163,
  "data": {"name": "m"},
  "mark": {"type": "line"},
  "encoding": {
   "x": {"field": "t", "type": "quantitative", "scale": {"domain": [4, 15], "nice": false, "zero": false}, "axis": {"values": [5,6,7,8,9,10,11,12,13,14], "labels": false, "grid": true, "title": "Н·м", "titleX": -44, "titleY": -141, "titleFontSize": 13}},
   "y": {"field": "v", "type": "quantitative", "scale": {"domain": [-20, 100], "nice": false}, "axis": {"values": [-20,0,20,40,60,80,100], "labelExpr": "'' + datum.value", "title": "M ,", "titleX": -54, "titleY": 5, "titleFontSize": 23, "titleFontStyle": "italic"}}
  }
 },
 {
  "width": 1020, "height": 166,
  "data": {"name": "w"},
  "mark": {"type": "line"},
  "encoding": {
   "x": {"field": "t", "type": "quantitative", "scale": {"domain": [4, 15], "nice": false, "zero": false}, "axis": {"values": [5,6,7,8,9,10,11,12,13,14], "labels": false, "grid": true, "title": "рад⁻¹", "titleX": -48, "titleY": -140, "titleFontSize": 12}},
   "y": {"field": "v", "type": "quantitative", "scale": {"domain": [6.75, 14], "nice": false, "zero": false}, "axis": {"values": [7,8,9,10,11,12,13,14], "labelExpr": "'' + datum.value", "title": "ω,", "titleX": -48, "titleY": 6, "titleFontSize": 25}}
  }
 },
 {
  "width": 1020, "height": 167,
  "layer": [
   {
    "data": {"name": "c"},
    "mark": {"type": "line"},
    "encoding": {
     "x": {"field": "t", "type": "quantitative", "scale": {"domain": [4, 15], "nice": false, "zero": false}, "axis": {"values": [4,5,6,7,8,9,10,11,12,13,14,15], "grid": true, "labelExpr": "'' + datum.value", "title": "t", "titleX": 1030, "titleY": 18, "titleFontSize": 18, "titleFontStyle": "italic"}},
     "y": {"field": "v", "type": "quantitative", "scale": {"domain": [0.28, 0.4], "nice": false, "zero": false}, "axis": {"values": [0.3,0.32,0.34,0.36,0.38,0.4], "labelExpr": "'' + datum.value", "title": "C", "titleX": -50, "titleY": 9, "titleFontSize": 25, "titleFontStyle": "italic"}}
    }
   },
   {
    "data": {"name": "c"},
    "mark": {"type": "rule", "opacity": 0},
    "encoding": {
     "y": {"datum": 0.3, "type": "quantitative", "scale": {"domain": [0.28, 0.4], "nice": false, "zero": false}, "axis": {"orient": "left", "labels": false, "grid": false, "title": "P", "titleX": -35, "titleY": 13, "titleFontSize": 14}}
    }
   }
  ],
  "resolve": {"scale": {"y": "independent"}}
 }
]
}
